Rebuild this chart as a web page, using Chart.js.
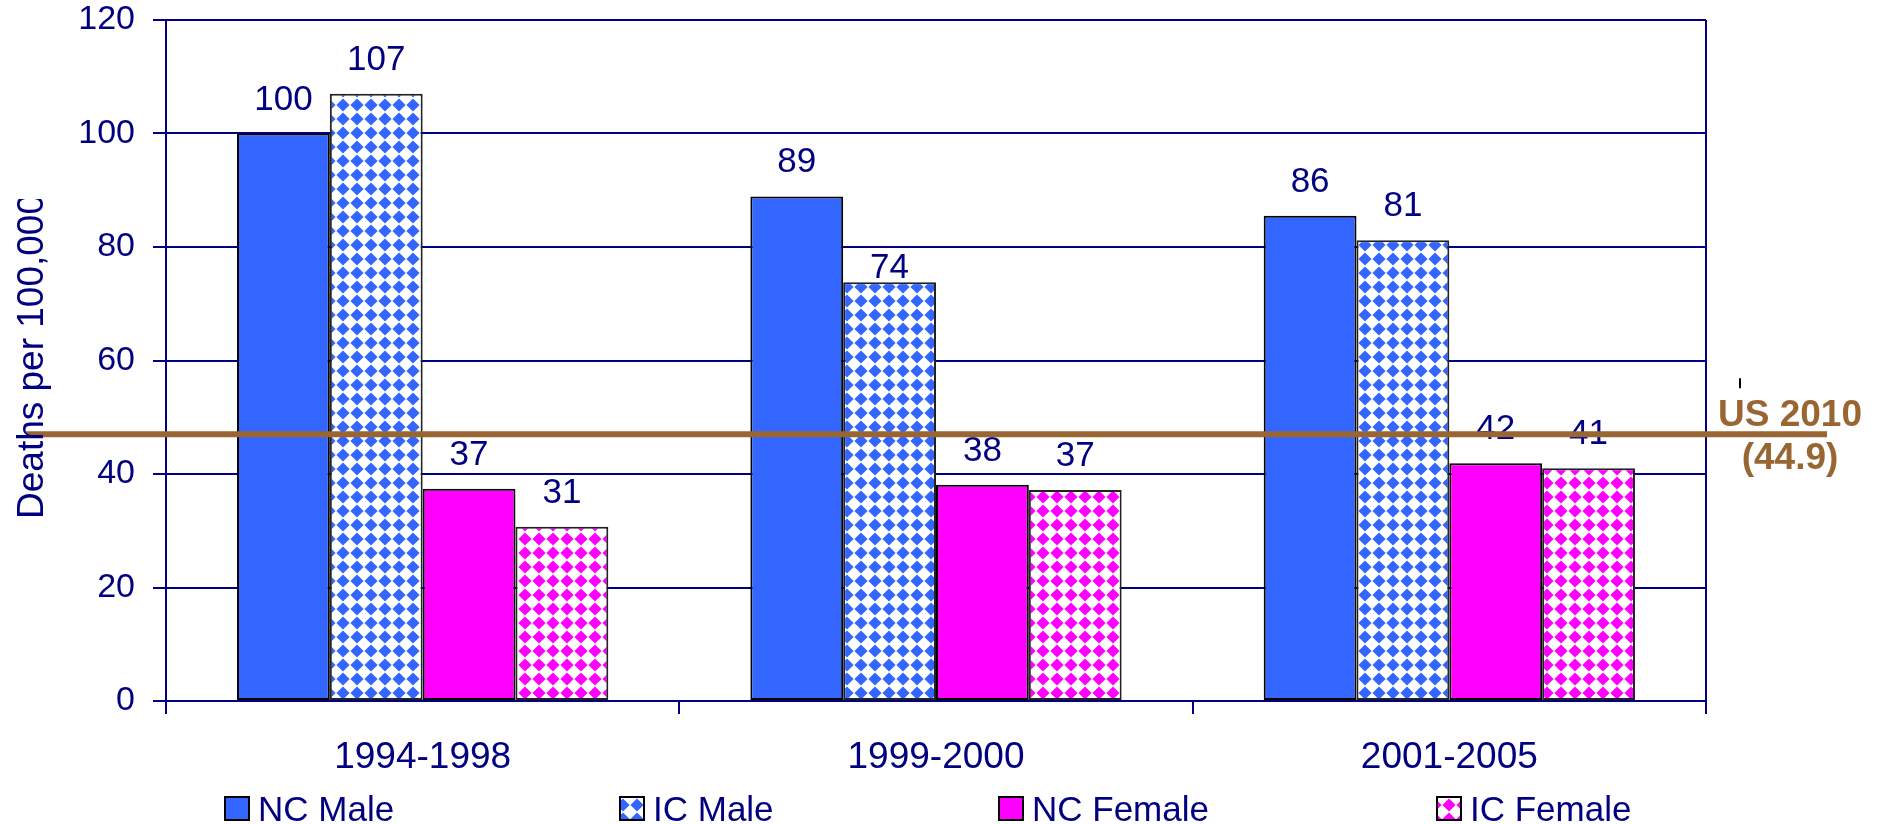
<!DOCTYPE html>
<html>
<head>
<meta charset="utf-8">
<script src="https://cdn.jsdelivr.net/npm/chart.js@4.4.0/dist/chart.umd.min.js"></script>
<style>
  html, body { margin: 0; padding: 0; background: #fff; }
  #wrap { width: 1877px; height: 824px; }
</style>
</head>
<body>
<div id="wrap"><canvas id="c" width="1877" height="824"></canvas></div>
<script>
// --- data ---
const periods = ['1994-1998', '1999-2000', '2001-2005'];
const seriesNames = ['NC Male', 'IC Male', 'NC Female', 'IC Female'];
const ncMale = [100, 88.9, 85.5];
const icMale = [107, 73.8, 81.2];
const ncFemale = [37.4, 38.1, 41.9];
const icFemale = [30.7, 37.2, 41];
const yMin = 0, yMax = 120, yStep = 20;
const usTargetText = ['US 2010', '(44.9)'];
const usTargetDrawnAt = 47; // the line sits a bit above 44.9 in the picture

const navy = '#000080';
const brown = '#996633';
const blue = '#3366ff';
const pink = '#ff00ff';
const FONT = '"Liberation Sans", Arial, sans-serif';

Chart.defaults.font.family = FONT;

const canvas = document.getElementById('c');
const mainCtx = canvas.getContext('2d');

// diamond checker pattern used for the IC bars
function diamonds(color) {
  const t = document.createElement('canvas');
  t.width = 14; t.height = 14;
  const g = t.getContext('2d');
  g.fillStyle = '#fff'; g.fillRect(0, 0, 14, 14);
  g.fillStyle = color;
  const r = 6.6;
  g.beginPath();
  g.moveTo(7, 7 - r); g.lineTo(7 + r, 7); g.lineTo(7, 7 + r); g.lineTo(7 - r, 7);
  g.closePath(); g.fill();
  return mainCtx.createPattern(t, 'repeat');
}

const fills = [blue, diamonds(blue), pink, diamonds(pink)];
const borders = ['#000', '#222', '#000', '#222'];
const values = [ncMale, icMale, ncFemale, icFemale];

// value labels above bars
const valueLabels = {
  id: 'valueLabels',
  afterDatasetsDraw(chart) {
    const ctx = chart.ctx;
    ctx.save();
    ctx.font = '35px ' + FONT;
    ctx.fillStyle = navy;
    ctx.textAlign = 'center';
    ctx.textBaseline = 'alphabetic';
    chart.data.datasets.forEach((ds, i) => {
      chart.getDatasetMeta(i).data.forEach((bar, j) => {
        const lift = (i === 1 && j === 1) ? 4 : 24;
        ctx.fillText(String(Math.round(ds.data[j])), bar.x, bar.y - lift);
      });
    });
    ctx.restore();
  }
};

// border, target line, axis title, legend
const overlay = {
  id: 'overlay',
  afterDraw(chart) {
    const ctx = chart.ctx;
    const a = chart.chartArea;
    const y = chart.scales.y;
    ctx.save();

    // right edge of plot
    ctx.strokeStyle = navy; ctx.lineWidth = 2;
    ctx.beginPath(); ctx.moveTo(a.right, a.top); ctx.lineTo(a.right, a.bottom); ctx.stroke();

    // US 2010 line
    const ty = y.getPixelForValue(usTargetDrawnAt);
    ctx.strokeStyle = brown; ctx.lineWidth = 6;
    ctx.beginPath(); ctx.moveTo(a.left - 140, ty); ctx.lineTo(a.right + 121, ty); ctx.stroke();

    ctx.strokeStyle = '#000'; ctx.lineWidth = 2;
    ctx.beginPath(); ctx.moveTo(a.right + 34, ty - 56); ctx.lineTo(a.right + 34, ty - 46); ctx.stroke();

    ctx.fillStyle = brown;
    ctx.font = 'bold 37px ' + FONT;
    ctx.textAlign = 'center';
    ctx.textBaseline = 'alphabetic';
    ctx.fillText(usTargetText[0], a.right + 84, ty - 8);
    ctx.fillText(usTargetText[1], a.right + 84, ty + 35);

    // y axis title, clipped at the top like the original
    ctx.save();
    ctx.beginPath(); ctx.rect(0, 199, 120, 500); ctx.clip();
    ctx.translate(43, 519);
    ctx.rotate(-Math.PI / 2);
    ctx.fillStyle = navy;
    ctx.font = '37px ' + FONT;
    ctx.textAlign = 'left';
    ctx.fillText('Deaths per 100,000', 0, 0);
    ctx.restore();

    // legend
    const legendX = [225, 620, 999, 1437];
    ctx.font = '35px ' + FONT;
    ctx.textAlign = 'left';
    seriesNames.forEach((name, i) => {
      const lx = legendX[i];
      ctx.fillStyle = fills[i];
      ctx.fillRect(lx, 797, 24, 23);
      ctx.strokeStyle = '#000'; ctx.lineWidth = 2;
      ctx.strokeRect(lx, 797, 24, 23);
      ctx.fillStyle = navy;
      ctx.fillText(name, lx + 33, 821);
    });

    ctx.restore();
  }
};

new Chart(canvas, {
  type: 'bar',
  data: {
    labels: periods,
    datasets: seriesNames.map((name, i) => ({
      label: name,
      data: values[i],
      backgroundColor: fills[i],
      borderColor: borders[i],
      borderWidth: 2,
      borderSkipped: false,
      categoryPercentage: 0.7233,
      barPercentage: 1
    }))
  },
  options: {
    responsive: false,
    animation: false,
    devicePixelRatio: 1,
    layout: { padding: { top: 0, right: 171, left: 0, bottom: 0 } },
    plugins: { legend: { display: false }, tooltip: { enabled: false } },
    scales: {
      x: {
        afterFit: s => { s.height = 123; },
        grid: { drawOnChartArea: false, tickLength: 13, color: navy, lineWidth: 2 },
        border: { color: navy, width: 2 },
        ticks: { color: navy, font: { size: 37 }, padding: 22 }
      },
      y: {
        min: yMin, max: yMax,
        afterFit: s => { s.width = 166; s.paddingTop = 20; s.paddingBottom = 0; },
        grid: { tickLength: 13, color: navy, lineWidth: 2 },
        border: { color: navy, width: 2 },
        ticks: { stepSize: yStep, color: navy, font: { size: 34 }, padding: 18 }
      }
    }
  },
  plugins: [valueLabels, overlay]
});
</script>
</body>
</html>
